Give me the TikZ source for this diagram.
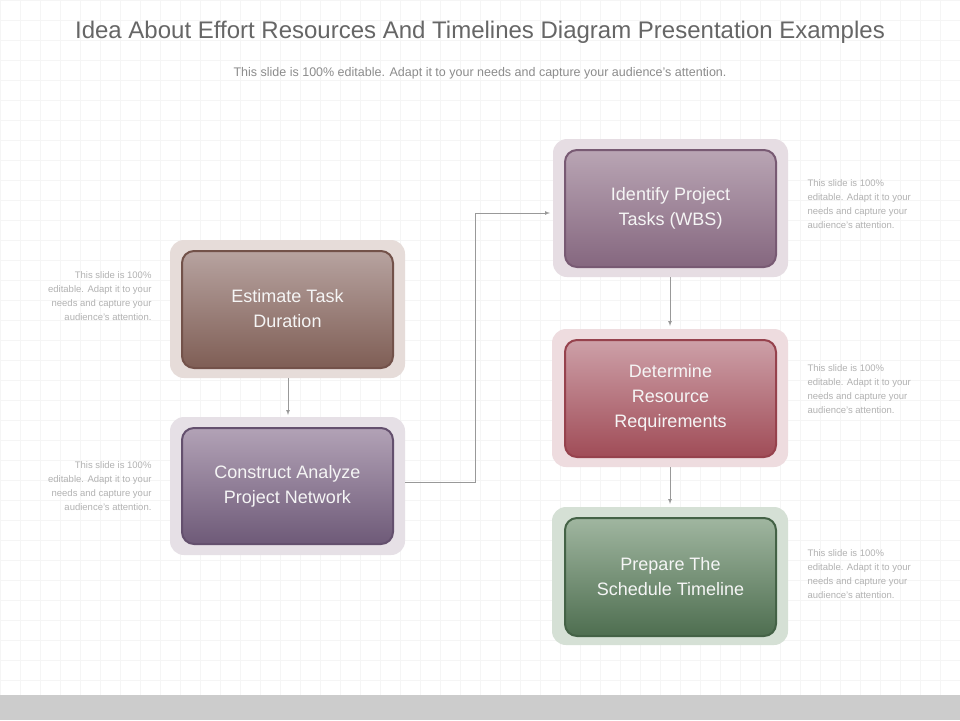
\documentclass[tikz,border=0pt]{standalone}
\usepackage{fontspec}
\setmainfont{Liberation Sans}
\begin{document}
\begin{tikzpicture}[x=1pt,y=-1pt,
  outer/.style={rounded corners=14pt},
  inner/.style={rounded corners=12pt,draw=#1,line width=2pt,font=\fontsize{18}{25}\selectfont,text=white!92!gray,align=center},
  side/.style={font=\fontsize{9.5}{14}\selectfont,text=gray!60,align=#1},
  arr/.style={draw=gray!80,line width=0.7pt,-latex}]
\useasboundingbox (0,0) rectangle (960,720);
\fill[white] (0,0) rectangle (960,720);
\draw[gray!8,step=20pt] (0,0) grid (960,695);
\fill[gray!40] (0,695) rectangle (960,720);
\node[text=gray!120!white,font=\fontsize{24}{28}\selectfont] (title) at (480,32) {Idea About Effort Resources And Timelines Diagram Presentation Examples};
\node[text=gray!90,font=\fontsize{12.5}{14}\selectfont] (sub) at (480,73) {This slide is 100\% editable. Adapt it to your needs and capture your audience's attention.};
% boxes
\newcommand{\mybox}[8]{%
  \fill[outer,#6] (#2,#3) rectangle (#4,#5);
  \shade[rounded corners=12pt,top color=#7,bottom color=#8,middle color=#8!70!#7] (#2+12,#3+11) rectangle (#4-12,#5-10);
  \draw[rounded corners=12pt,draw=#8!85!black,line width=2pt] (#2+12,#3+11) rectangle (#4-12,#5-10);
  \node[inner=none] (#1) at ({(#2+#4)/2},{(#3+#5)/2}) {#1text};}
\fill[outer,fill={rgb,255:red,230;green,220;blue,217}] (170,240) rectangle (405,378);
\shade[rounded corners=12pt,top color={rgb,255:red,183;green,163;blue,160},bottom color={rgb,255:red,127;green,94;blue,85}] (182,251) rectangle (393,368);
\draw[rounded corners=12pt,draw={rgb,255:red,115;green,82;blue,74},line width=2pt] (182,251) rectangle (393,368);
\node[inner=none] (est) at (287.5,309) {Estimate Task\\Duration};

\fill[outer,fill={rgb,255:red,230;green,224;blue,230}] (170,417) rectangle (405,555);
\shade[rounded corners=12pt,top color={rgb,255:red,178;green,162;blue,182},bottom color={rgb,255:red,110;green,90;blue,120}] (182,428) rectangle (393,544);
\draw[rounded corners=12pt,draw={rgb,255:red,100;green,80;blue,110},line width=2pt] (182,428) rectangle (393,544);
\node[inner=none] (con) at (287.5,486) {Construct Analyze\\Project Network};

\fill[outer,fill={rgb,255:red,230;green,221;blue,227}] (553,139) rectangle (788,277);
\shade[rounded corners=12pt,top color={rgb,255:red,185;green,165;blue,180},bottom color={rgb,255:red,133;green,103;blue,127}] (565,150) rectangle (776,267);
\draw[rounded corners=12pt,draw={rgb,255:red,120;green,90;blue,115},line width=2pt] (565,150) rectangle (776,267);
\node[inner=none] (ide) at (670.5,208) {Identify Project\\Tasks (WBS)};

\fill[outer,fill={rgb,255:red,238;green,220;blue,223}] (552,329) rectangle (788,467);
\shade[rounded corners=12pt,top color={rgb,255:red,205;green,160;blue,168},bottom color={rgb,255:red,160;green,76;blue,87}] (565,340) rectangle (776,457);
\draw[rounded corners=12pt,draw={rgb,255:red,150;green,66;blue,77},line width=2pt] (565,340) rectangle (776,457);
\node[inner=none] (det) at (670.5,398) {Determine\\Resource\\Requirements};

\fill[outer,fill={rgb,255:red,213;green,224;blue,213}] (552,507) rectangle (788,645);
\shade[rounded corners=12pt,top color={rgb,255:red,160;green,182;blue,160},bottom color={rgb,255:red,78;green,110;blue,80}] (565,518) rectangle (776,636);
\draw[rounded corners=12pt,draw={rgb,255:red,68;green,98;blue,70},line width=2pt] (565,518) rectangle (776,636);
\node[inner=none] (pre) at (670.5,577) {Prepare The\\Schedule Timeline};

\coordinate (estb) at (288,378); \coordinate (cont) at (288,415);
\coordinate (conr) at (405,482); \coordinate (idel) at (550,213);
\coordinate (ideb) at (670,277); \coordinate (dett) at (670,326);
\coordinate (detb) at (670,467); \coordinate (pret) at (670,504);
\draw[arr] (estb) -- (cont);
\draw[arr] (conr) -- (475,482) |- (idel);
\draw[arr] (ideb) -- (dett);
\draw[arr] (detb) -- (pret);

\node[side=right,anchor=north east] (s1) at (155,268) {This slide is 100\%\\editable. Adapt it to your\\needs and capture your\\audience's attention.};
\node[side=right,anchor=north east] (s2) at (155,458) {This slide is 100\%\\editable. Adapt it to your\\needs and capture your\\audience's attention.};
\node[side=left,anchor=north west] (s3) at (804,176) {This slide is 100\%\\editable. Adapt it to your\\needs and capture your\\audience's attention.};
\node[side=left,anchor=north west] (s4) at (804,361) {This slide is 100\%\\editable. Adapt it to your\\needs and capture your\\audience's attention.};
\node[side=left,anchor=north west] (s5) at (804,546) {This slide is 100\%\\editable. Adapt it to your\\needs and capture your\\audience's attention.};
\end{tikzpicture}
\end{document}
